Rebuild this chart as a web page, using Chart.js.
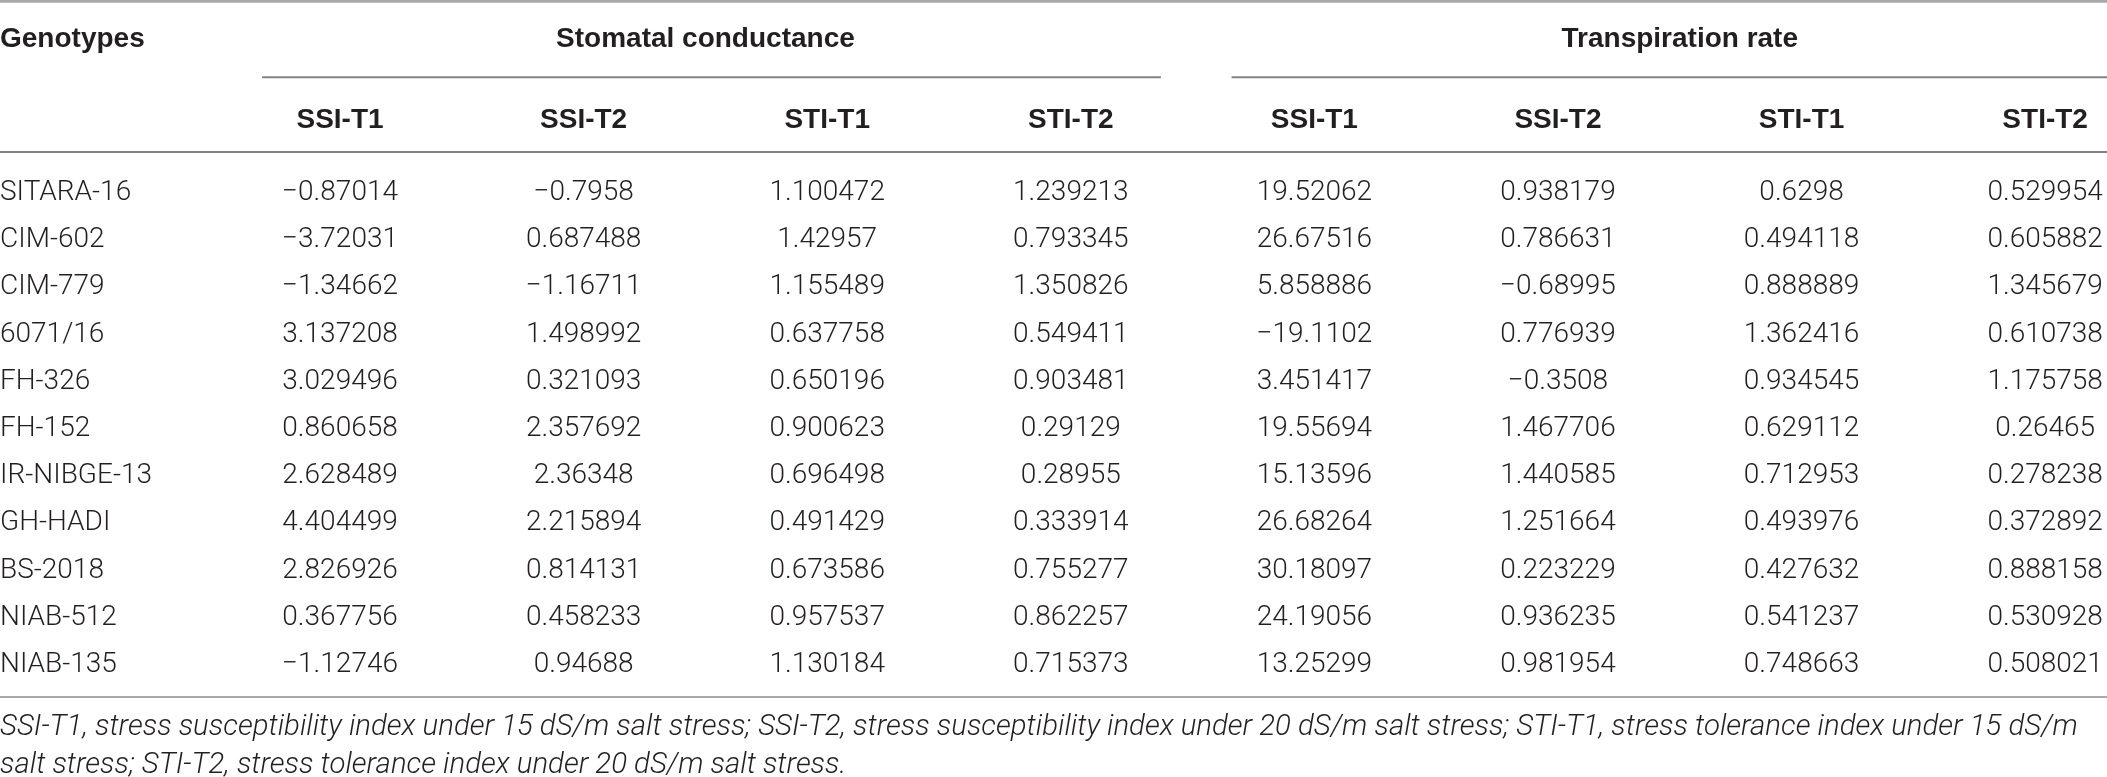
<!DOCTYPE html>
<html>
<head>
<meta charset="utf-8">
<script src="https://cdn.jsdelivr.net/npm/chart.js@4.4.1/dist/chart.umd.min.js"></script>
<style>
  html, body { margin: 0; padding: 0; background: #fff; }
  #wrap { width: 2107px; height: 777px; }
</style>
</head>
<body>
<div id="wrap"><canvas id="chart" width="2107" height="777"></canvas></div>
<script>
// table contents
const genotypes = ['SITARA-16', 'CIM-602', 'CIM-779', '6071/16', 'FH-326', 'FH-152',
    'IR-NIBGE-13', 'GH-HADI', 'BS-2018', 'NIAB-512', 'NIAB-135'];
const groups = ['Stomatal conductance', 'Transpiration rate'];
const indices = ['SSI-T1', 'SSI-T2', 'STI-T1', 'STI-T2'];

const gsSSI1 = [-0.87014, -3.72031, -1.34662, 3.137208, 3.029496, 0.860658, 2.628489, 4.404499, 2.826926, 0.367756, -1.12746];
const gsSSI2 = [-0.7958, 0.687488, -1.16711, 1.498992, 0.321093, 2.357692, 2.36348, 2.215894, 0.814131, 0.458233, 0.94688];
const gsSTI1 = [1.100472, 1.42957, 1.155489, 0.637758, 0.650196, 0.900623, 0.696498, 0.491429, 0.673586, 0.957537, 1.130184];
const gsSTI2 = [1.239213, 0.793345, 1.350826, 0.549411, 0.903481, 0.29129, 0.28955, 0.333914, 0.755277, 0.862257, 0.715373];
const trSSI1 = [19.52062, 26.67516, 5.858886, -19.1102, 3.451417, 19.55694, 15.13596, 26.68264, 30.18097, 24.19056, 13.25299];
const trSSI2 = [0.938179, 0.786631, -0.68995, 0.776939, -0.3508, 1.467706, 1.440585, 1.251664, 0.223229, 0.936235, 0.981954];
const trSTI1 = [0.6298, 0.494118, 0.888889, 1.362416, 0.934545, 0.629112, 0.712953, 0.493976, 0.427632, 0.541237, 0.748663];
const trSTI2 = [0.529954, 0.605882, 1.345679, 0.610738, 1.175758, 0.26465, 0.278238, 0.372892, 0.888158, 0.530928, 0.508021];

const footnote = [
    'SSI-T1, stress susceptibility index under 15 dS/m salt stress; SSI-T2, stress susceptibility index under 20 dS/m salt stress; STI-T1, stress tolerance index under 15 dS/m',
    'salt stress; STI-T2, stress tolerance index under 20 dS/m salt stress.'
];

const columns = [gsSSI1, gsSSI2, gsSTI1, gsSTI2, trSSI1, trSSI2, trSTI1, trSTI2];

// x: column index, y: row index (header rows are negative)
const X_MIN = -1.396, X_MAX = 7.254;
const Y_MIN = -4.025, Y_MAX = 12.435;
const ROW_GROUP = -3.24, ROW_SUB = -1.525, ROW_NOTE1 = 11.33, ROW_NOTE2 = 12.14;

const BOLD = 'bold 28px "Liberation Sans", Arial, sans-serif';
const BODY = '300 28px Roboto, "Liberation Sans", sans-serif';
const NOTE = 'italic 300 29.4px Roboto, "Liberation Sans", sans-serif';

function fmt(v) {
    return String(v).replace('-', '\u2212');
}

const datasets = columns.map((col, i) => ({
    label: (i < 4 ? groups[0] : groups[1]) + ' ' + indices[i % 4],
    data: col.map((v, r) => ({ x: i, y: r })),
    values: col.map(fmt),
    pointRadius: 0,
    showLine: false
}));
datasets.unshift({
    label: 'Genotypes',
    data: genotypes.map((g, r) => ({ x: X_MIN, y: r })),
    values: genotypes,
    pointRadius: 0,
    showLine: false,
    align: 'left'
});

const tablePlugin = {
    id: 'table',
    afterDatasetsDraw(chart) {
        const ctx = chart.ctx;
        const xs = chart.scales.x, ys = chart.scales.y;
        const px = v => xs.getPixelForValue(v);
        const py = v => ys.getPixelForValue(v);

        function text(str, x, y, font, align, maxW) {
            ctx.font = font;
            ctx.textAlign = align;
            ctx.textBaseline = 'alphabetic';
            ctx.fillStyle = '#231f20';
            if (maxW) ctx.fillText(str, x, y + 10, maxW);
            else ctx.fillText(str, x, y + 10);
        }
        function rule(x0, x1, y, width, color) {
            ctx.beginPath();
            ctx.lineWidth = width;
            ctx.strokeStyle = color;
            ctx.moveTo(px(x0), py(y));
            ctx.lineTo(px(x1), py(y));
            ctx.stroke();
        }

        ctx.save();
        // rules
        rule(X_MIN, X_MAX, -4.0, 3, '#a7a9ac');
        rule(-0.32, 3.37, -2.39, 2, '#808285');
        rule(3.66, X_MAX, -2.39, 2, '#808285');
        rule(X_MIN, X_MAX, -0.805, 2, '#808285');
        rule(X_MIN, X_MAX, 10.74, 2, '#a7a9ac');

        // headers
        text('Genotypes', px(X_MIN), py(ROW_GROUP), BOLD, 'left');
        text(groups[0], px(1.5), py(ROW_GROUP), BOLD, 'center');
        text(groups[1], px(5.5), py(ROW_GROUP), BOLD, 'center');
        columns.forEach((c, i) => text(indices[i % 4], px(i), py(ROW_SUB), BOLD, 'center'));

        // cells
        chart.data.datasets.forEach((ds, i) => {
            chart.getDatasetMeta(i).data.forEach((pt, r) => {
                text(ds.values[r], pt.x, pt.y, BODY, ds.align || 'center');
            });
        });

        // footnote
        const noteW = px(X_MAX) - px(X_MIN) - 4;
        text(footnote[0], px(X_MIN), py(ROW_NOTE1), NOTE, 'left', noteW);
        text(footnote[1], px(X_MIN), py(ROW_NOTE2), NOTE, 'left', noteW);
        ctx.restore();
    }
};

new Chart(document.getElementById('chart').getContext('2d'), {
    type: 'scatter',
    data: { datasets: datasets },
    options: {
        responsive: false,
        animation: false,
        devicePixelRatio: 1,
        layout: { padding: 0 },
        plugins: { legend: { display: false }, tooltip: { enabled: false } },
        scales: {
            x: { type: 'linear', min: X_MIN, max: X_MAX, display: false },
            y: { type: 'linear', min: Y_MIN, max: Y_MAX, reverse: true, display: false }
        }
    },
    plugins: [tablePlugin]
});
</script>
</body>
</html>
